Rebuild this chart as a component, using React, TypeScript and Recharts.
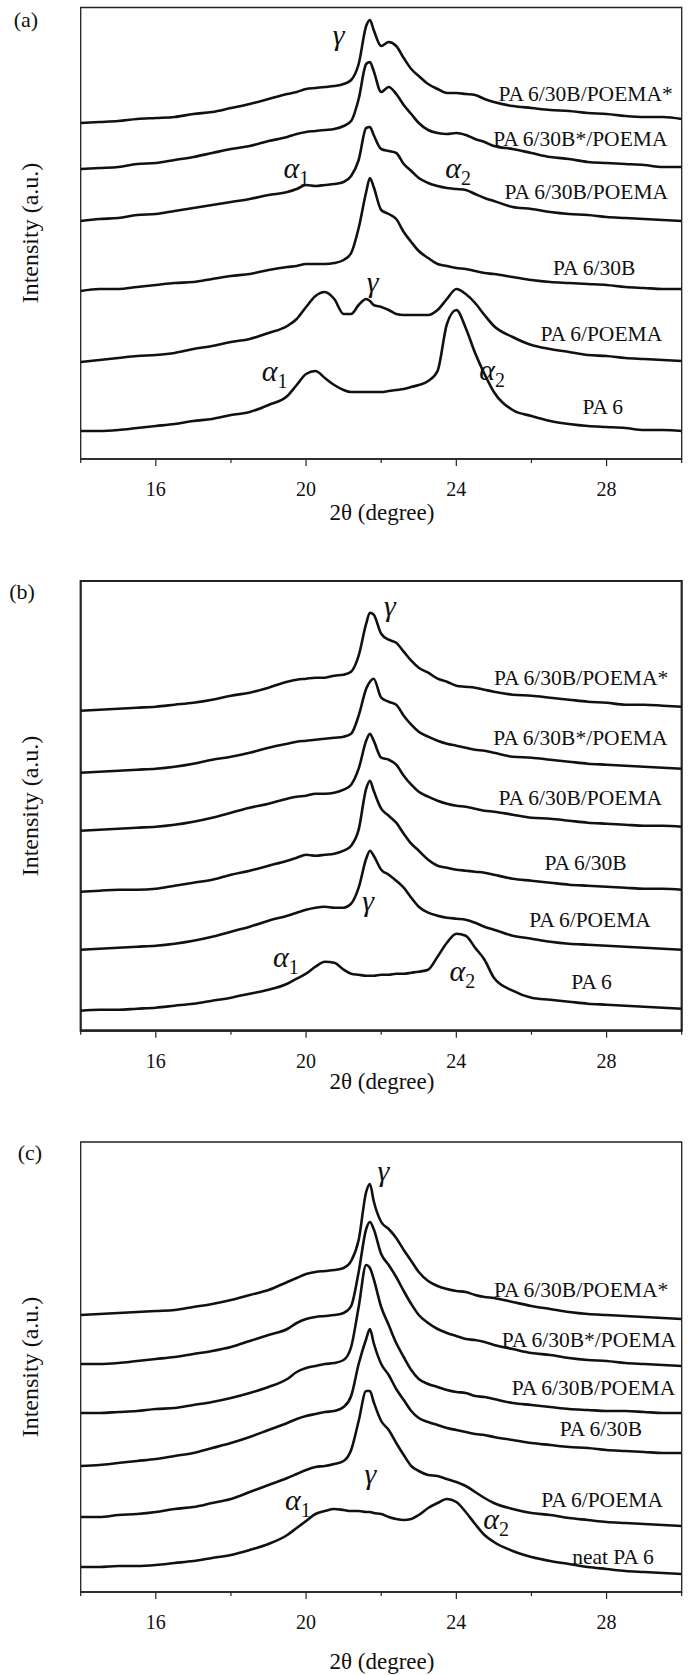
import React from 'react';
import { LineChart, Line, XAxis, YAxis, ReferenceArea, ReferenceDot } from 'recharts';

const FONT = "'Liberation Serif', 'Times New Roman', serif";

// 2θ sampling (degree), finer around the peaks
const twoTheta = [
  14, 14.5, 15, 15.5, 16, 16.5, 17, 17.5, 18, 18.5, 19, 19.5, 19.75, 20, 20.25, 20.5, 20.75, 21,
  21.2, 21.4, 21.6, 21.7, 21.8, 22, 22.2, 22.4, 22.6, 22.8, 23, 23.25, 23.5, 23.75, 24, 24.25,
  24.5, 24.75, 25, 25.5, 26, 26.5, 27, 27.5, 28, 28.5, 29, 29.5, 30,
];

const xTicks = [14, 16, 18, 20, 22, 24, 26, 28, 30];

const namesAB = ['PA 6/30B/POEMA*', 'PA 6/30B*/POEMA', 'PA 6/30B/POEMA', 'PA 6/30B', 'PA 6/POEMA', 'PA 6'];
const namesC = ['PA 6/30B/POEMA*', 'PA 6/30B*/POEMA', 'PA 6/30B/POEMA', 'PA 6/30B', 'PA 6/POEMA', 'neat PA 6'];

// (a) intensities, stacked (a.u.)
const a1 = [336,337,338,340,341,342,345,347,351,355,360,365,367,370,371,372,373,375,379,395,433,439,429,413,417,413,401,390,383,375,370,366,366,365,364,360,357,353,351,349,348,346,345,343,342,342,340];
const a2 = [290,291,292,295,296,299,302,306,310,313,318,322,325,327,328,329,330,333,338,360,395,397,388,367,372,365,354,345,336,329,326,325,326,324,320,317,313,310,306,302,300,297,296,295,294,292,292];
const a3 = [238,240,241,244,245,248,251,254,257,260,264,267,270,274,273,274,275,277,283,299,331,332,324,310,308,306,295,288,281,276,273,271,270,269,265,261,258,252,250,247,245,244,242,241,240,239,238];
const a4 = [168,170,170,172,174,176,177,180,183,185,189,192,193,195,195,195,196,199,206,231,267,281,272,249,245,240,227,217,208,201,195,193,191,190,188,186,185,182,179,177,176,175,174,172,171,170,170];
const a5 = [97,99,101,103,104,106,110,113,117,120,126,133,140,152,163,167,160,145,145,154,160,158,154,152,149,145,144,144,144,144,149,160,170,165,156,144,133,122,114,110,107,104,103,101,100,99,98];
const a6 = [28,28,29,31,33,35,38,40,44,47,54,63,74,85,88,81,74,69,67,67,67,67,67,67,68,69,70,72,74,78,88,135,149,131,106,85,67,49,43,38,35,33,32,31,29,29,28];

// (b)
const b1 = [320,321,322,323,324,326,328,331,335,338,343,349,351,352,353,353,355,356,359,375,407,418,416,397,391,388,379,370,363,358,352,349,345,344,343,341,339,336,335,333,331,329,328,326,326,325,324];
const b2 = [258,259,260,261,262,264,267,271,274,278,283,287,289,290,291,292,293,294,297,315,342,349,352,333,329,326,315,306,299,294,290,287,285,283,281,280,278,274,273,271,269,267,266,265,264,263,262];
const b3 = [200,201,202,203,204,206,209,213,218,223,227,232,234,235,237,237,238,241,246,262,290,297,290,273,271,266,255,246,239,234,230,227,225,224,222,220,219,216,213,212,210,208,207,206,205,205,204];
const b4 = [139,140,141,141,142,145,148,151,156,160,165,170,173,176,175,176,177,180,185,201,242,250,240,222,215,208,197,187,180,171,165,163,161,160,159,158,156,152,150,148,146,145,144,143,142,142,141];
const b5 = [81,82,83,84,85,87,90,94,99,104,110,115,118,121,123,124,123,123,127,143,172,180,175,161,156,150,143,133,124,118,115,113,112,111,108,104,101,95,92,89,87,86,85,84,83,82,81];
const b6 = [20,21,21,22,23,25,27,30,33,37,41,47,52,57,64,69,68,61,57,56,55,55,55,56,56,57,57,58,59,61,74,88,97,95,83,71,53,40,33,31,29,27,26,25,24,23,22];

// (c)
const c1 = [277,278,279,280,281,282,285,288,292,297,302,310,314,318,320,321,322,324,331,352,400,408,391,370,363,354,342,331,320,311,306,303,301,300,297,295,294,290,286,283,280,278,277,276,275,274,273];
const c2 = [228,228,229,231,233,235,238,241,245,251,257,263,269,273,275,276,277,279,286,320,363,370,363,338,327,315,301,288,277,269,263,259,256,253,252,250,247,243,239,237,234,232,231,229,228,227,226];
const c3 = [179,179,180,181,183,184,187,190,194,199,205,213,220,224,226,228,229,232,245,285,327,324,313,285,267,249,235,222,213,208,205,202,200,199,196,195,193,189,187,185,183,182,181,181,180,179,179];
const c4 = [126,127,129,131,133,136,139,144,149,155,162,169,173,176,178,180,181,185,196,228,253,263,249,228,217,203,192,181,174,170,167,164,162,160,158,157,155,152,149,147,145,144,142,141,140,139,139];
const c5 = [75,75,77,78,80,83,85,89,93,100,107,114,118,122,125,126,128,131,142,171,201,201,190,171,162,149,137,126,121,117,116,113,110,106,100,94,89,83,79,77,74,72,70,69,68,67,66];
const c6 = [25,25,26,26,27,29,31,34,37,42,48,57,64,71,78,81,83,82,81,81,80,80,79,78,75,73,72,73,77,84,89,93,90,80,68,57,50,41,35,31,28,25,23,21,20,19,18];

// where each curve name sits [2θ, intensity]
const labelsA = [[27.44, 365], [27.3, 320], [27.46, 267], [27.67, 191], [27.86, 125], [27.9, 52]];
const labelsB = [[27.32, 353], [27.3, 293], [27.3, 233], [27.44, 168], [27.56, 111], [27.6, 49]];
const labelsC = [[27.32, 302], [27.53, 252], [27.65, 204], [27.85, 163], [27.88, 92], [28.17, 35]];

// crystal form marks
const greekA = [
  { s: 'γ', sub: '', x: 20.87, y: 414 },
  { s: 'γ', sub: '', x: 21.77, y: 167 },
  { s: 'α', sub: '1', x: 19.74, y: 281 },
  { s: 'α', sub: '2', x: 24.05, y: 281 },
  { s: 'α', sub: '1', x: 19.16, y: 78 },
  { s: 'α', sub: '2', x: 24.95, y: 79 },
];
const greekB = [
  { s: 'γ', sub: '', x: 22.23, y: 415 },
  { s: 'γ', sub: '', x: 21.65, y: 120 },
  { s: 'α', sub: '1', x: 19.46, y: 64 },
  { s: 'α', sub: '2', x: 24.16, y: 50 },
];
const greekC = [
  { s: 'γ', sub: '', x: 22.06, y: 411 },
  { s: 'γ', sub: '', x: 21.71, y: 108 },
  { s: 'α', sub: '1', x: 19.78, y: 82 },
  { s: 'α', sub: '2', x: 25.06, y: 63 },
];

const renderTick = (props: any) => {
  const { x, y, payload } = props;
  const v = payload.value;
  const major = v % 4 === 0;
  return (
    <g>
      <line x1={x} x2={x} y1={y} y2={y + (major ? 7 : 4)} stroke="#222" strokeWidth={1.2} />
      {major && (
        <text x={x} y={y + 37} textAnchor="middle" fontSize={20} fontFamily={FONT} fill="#111">
          {v}
        </text>
      )}
    </g>
  );
};

interface PanelProps {
  top: number;
  height: number;
  marginTop: number;
  plotH: number;
  series: number[][];
  names: string[];
  labelPos: number[][];
  greek: { s: string; sub: string; x: number; y: number }[];
  frame: number;
}

const Panel = ({ top, height, marginTop, plotH, series, names, labelPos, greek, frame }: PanelProps) => {
  const rows = twoTheta.map((t, i) => {
    const r: any = { t };
    series.forEach((s, k) => (r['s' + k] = s[i]));
    return r;
  });
  return (
    <div style={{ position: 'absolute', left: 0, top, width: 691, height }}>
      <LineChart
        width={691}
        height={height}
        data={rows}
        margin={{ top: marginTop, right: 9.3, left: 80.7, bottom: 0 }}
      >
        <XAxis
          dataKey="t"
          type="number"
          domain={[14, 30]}
          ticks={xTicks}
          interval={0}
          tick={renderTick}
          tickLine={false}
          tickSize={0}
          tickMargin={0}
          height={height - marginTop - plotH}
          axisLine={{ stroke: '#222', strokeWidth: frame }}
          allowDataOverflow
        />
        <YAxis type="number" domain={[0, plotH]} hide allowDataOverflow />
        <ReferenceArea
          x1={14}
          x2={30}
          y1={0}
          y2={plotH}
          fill="none"
          fillOpacity={0}
          stroke="#222"
          strokeWidth={frame}
        />
        {series.map((_, k) => (
          <Line
            key={k}
            dataKey={'s' + k}
            type="monotone"
            stroke="#111"
            strokeWidth={2.6}
            dot={false}
            isAnimationActive={false}
          />
        ))}
        {names.map((n, k) => (
          <ReferenceDot
            key={'n' + k}
            x={labelPos[k][0]}
            y={labelPos[k][1]}
            r={0}
            shape={(p: any) => (
              <text
                x={p.cx}
                y={p.cy}
                textAnchor="middle"
                dominantBaseline="central"
                fontSize={21.5}
                fontFamily={FONT}
                fill="#111"
              >
                {n}
              </text>
            )}
          />
        ))}
        {greek.map((g, k) => (
          <ReferenceDot
            key={'g' + k}
            x={g.x}
            y={g.y}
            r={0}
            shape={(p: any) => (
              <text x={p.cx} y={p.cy} textAnchor="middle" fontSize={30} fontFamily={FONT} fill="#111">
                <tspan fontStyle="italic">{g.s}</tspan>
                {g.sub && (
                  <tspan fontSize={20} dy={7}>
                    {g.sub}
                  </tspan>
                )}
              </text>
            )}
          />
        ))}
      </LineChart>
    </div>
  );
};

const textBase: React.CSSProperties = {
  position: 'absolute',
  fontFamily: FONT,
  color: '#111',
  textAlign: 'center',
  whiteSpace: 'nowrap',
};

const YTitle = ({ cy }: { cy: number }) => (
  <div
    style={{
      ...textBase,
      left: 30 - 110,
      top: cy - 15,
      width: 220,
      height: 30,
      lineHeight: '30px',
      fontSize: 24,
      transform: 'rotate(-90deg)',
    }}
  >
    Intensity (a.u.)
  </div>
);

const XTitle = ({ cy }: { cy: number }) => (
  <div
    style={{
      ...textBase,
      left: 382 - 110,
      top: cy - 15,
      width: 220,
      height: 30,
      lineHeight: '30px',
      fontSize: 23,
    }}
  >
    2θ (degree)
  </div>
);

const Tag = ({ cx, cy, t }: { cx: number; cy: number; t: string }) => (
  <div
    style={{
      ...textBase,
      left: cx - 30,
      top: cy - 14,
      width: 60,
      height: 28,
      lineHeight: '28px',
      fontSize: 22,
    }}
  >
    {t}
  </div>
);

export default function App() {
  return (
    <div
      style={{
        position: 'absolute',
        left: 0,
        top: 0,
        width: 691,
        height: 1675,
        background: '#fff',
        overflow: 'hidden',
      }}
    >
      <Panel
        top={0}
        height={530}
        marginTop={7.5}
        plotH={451.5}
        series={[a1, a2, a3, a4, a5, a6]}
        names={namesAB}
        labelPos={labelsA}
        greek={greekA}
        frame={1.3}
      />
      <Panel
        top={570}
        height={530}
        marginTop={11}
        plotH={449.7}
        series={[b1, b2, b3, b4, b5, b6]}
        names={namesAB}
        labelPos={labelsB}
        greek={greekB}
        frame={2.2}
      />
      <Panel
        top={1130}
        height={545}
        marginTop={12}
        plotH={450}
        series={[c1, c2, c3, c4, c5, c6]}
        names={namesC}
        labelPos={labelsC}
        greek={greekC}
        frame={1.3}
      />
      <Tag cx={26} cy={20} t="(a)" />
      <Tag cx={22} cy={592} t="(b)" />
      <Tag cx={30} cy={1153} t="(c)" />
      <YTitle cy={233} />
      <YTitle cy={806} />
      <YTitle cy={1367} />
      <XTitle cy={513} />
      <XTitle cy={1082} />
      <XTitle cy={1662} />
    </div>
  );
}
